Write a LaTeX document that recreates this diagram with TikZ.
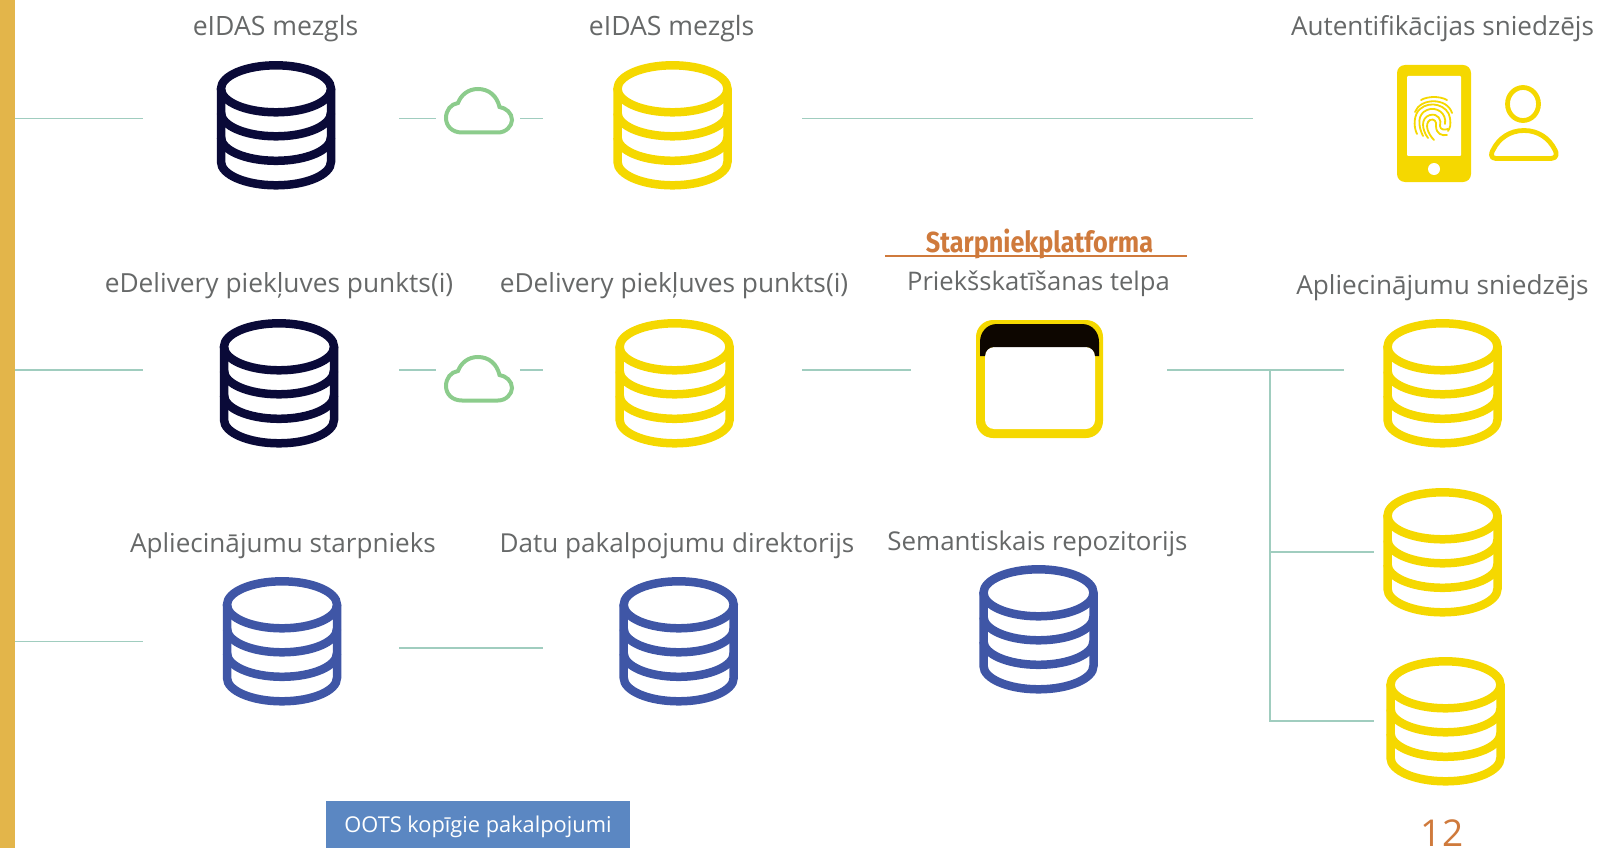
\documentclass[tikz,border=0pt]{standalone}
\usepackage{fontspec}
\newfontfamily\lab{Open Sans}
\newfontfamily\head[FakeStretch=0.87]{Fira Sans}
\definecolor{navy}{HTML}{0A0A38}
\definecolor{gold}{HTML}{F5D800}
\definecolor{royal}{HTML}{3F56A6}
\definecolor{linec}{HTML}{A0CDBF}
\definecolor{cloudc}{HTML}{8CCC8C}
\definecolor{barc}{HTML}{E3B54A}
\definecolor{orangec}{HTML}{CF7A3C}
\definecolor{greyt}{HTML}{666868}
\definecolor{boxc}{HTML}{5B87C2}
\newcommand\dbicon[3]{%
\begin{scope}[shift={(#1,#2)},draw=#3,line width=8.5pt]
\draw (0,27.8) ellipse [x radius=55pt,y radius=23.5pt];
\draw (-55,27.8) -- (-55,100.8) arc [start angle=180,end angle=360,x radius=55pt,y radius=23.5pt] -- (55,27.8);
\draw (-55,51.8) arc [start angle=180,end angle=360,x radius=55pt,y radius=23.5pt];
\draw (-55,76.3) arc [start angle=180,end angle=360,x radius=55pt,y radius=23.5pt];
\end{scope}}
\newcommand\cloudicon[2]{%
\begin{scope}[shift={(#1,#2)}]
\draw[cloudstroke] (462,132.5) -- (498,132.5) .. controls (506,132.5) and (512,126) .. (512,120) .. controls (512,113) and (506,108) .. (499.5,107) .. controls (497,96) and (489,89) .. (478,89) .. controls (468,89) and (461,95) .. (458,103) .. controls (451,104) and (446,110) .. (446,118) .. controls (446,126) and (452,132.5) .. (462,132.5) -- cycle;
\end{scope}}
\tikzset{
  cloudstroke/.style={draw=cloudc,line width=4pt},
  conn/.style={draw=linec,line width=1.1pt},
  lbl/.style={anchor=base,inner sep=0pt,text=greyt,font=\lab\fontsize{#1}{30}\selectfont},
  lbl/.default=26.1,
}
\begin{document}
\begin{tikzpicture}[x=1pt,y=-1pt]
\useasboundingbox (0,0) rectangle (1598,848);
\fill[barc] (0,0) rectangle (15,848);
% databases
\dbicon{276}{61}{navy}
\dbicon{672.5}{61}{gold}
\dbicon{279}{319}{navy}
\dbicon{674.6}{319}{gold}
\dbicon{282}{577}{royal}
\dbicon{678.7}{577}{royal}
\dbicon{1038.5}{565}{royal}
\dbicon{1442.5}{319}{gold}
\dbicon{1442.5}{488}{gold}
\dbicon{1445.5}{657}{gold}
% clouds
\cloudicon{0}{0}
\cloudicon{0}{268}
% connector ends
\coordinate (a1) at (15,118.3); \coordinate (a2) at (143,118.3);
\coordinate (a3) at (399,118.3); \coordinate (a4) at (436,118.3);
\coordinate (a5) at (520,118.3); \coordinate (a6) at (543,118.3);
\coordinate (a7) at (802,118.3); \coordinate (a8) at (1253,118.3);
\coordinate (b1) at (15,370); \coordinate (b2) at (143,370);
\coordinate (b3) at (399,370); \coordinate (b4) at (436,370);
\coordinate (b5) at (520,370); \coordinate (b6) at (543,370);
\coordinate (b7) at (802,370); \coordinate (b8) at (911,370);
\coordinate (b9) at (1167,370); \coordinate (j1) at (1270,370); \coordinate (b10) at (1344,370);
\coordinate (j2) at (1270,552); \coordinate (e2) at (1374,552);
\coordinate (j3) at (1270,721); \coordinate (e3) at (1374,721);
\coordinate (c1) at (15,641.5); \coordinate (c2) at (143,641.5);
\coordinate (c3) at (399,648); \coordinate (c4) at (543,648);
\draw[conn] (a1) -- (a2);
\draw[conn] (a3) -- (a4);
\draw[conn] (a5) -- (a6);
\draw[conn] (a7) -- (a8);
\draw[conn] (b1) -- (b2);
\draw[conn] (b3) -- (b4);
\draw[conn] (b5) -- (b6);
\draw[conn] (b7) -- (b8);
\draw[conn] (b9) -- (j1) -- (b10);
\draw[conn] (j1) -- (j2) -- (e2);
\draw[conn] (j2) -- (j3) -- (e3);
\draw[conn] (c1) -- (c2);
\draw[conn] (c3) -- (c4);
% window
\fill[gold,rounded corners=17pt] (976,320) rectangle (1103,438);
\fill[white,rounded corners=9pt] (985,347) rectangle (1095,429);
\fill[black!95!orange] (980,356) -- (980,342) .. controls (980,332) and (987,324) .. (997,324) -- (1082,324) .. controls (1092,324) and (1099,332) .. (1099,342) -- (1099,356) -- (1095,356) .. controls (1095,351) and (1091,347) .. (1086,347) -- (994,347) .. controls (989,347) and (985,351) .. (985,356) -- cycle;
% phone
\fill[gold,rounded corners=8pt] (1397,65) rectangle (1471,182);
\fill[white,rounded corners=1pt] (1407,76) rectangle (1461,156);
\fill[white] (1434,169) circle [radius=6pt];
\begin{scope}[draw=gold,line width=1.8pt,line cap=round]
\draw (1421,100) .. controls (1428,96) and (1440,96) .. (1447,100);
\draw (1415,112) .. controls (1420,98) and (1447,97) .. (1452,113);
\draw (1417,134) .. controls (1413,126) and (1414,114) .. (1420,109) .. controls (1430,100) and (1448,105) .. (1450,118) .. controls (1451,125) and (1450,128) .. (1448,131);
\draw (1423,136) .. controls (1418,126) and (1417,114) .. (1427,110) .. controls (1436,106) and (1447,113) .. (1445,124);
\draw (1428,138) .. controls (1422,130) and (1420,118) .. (1430,115) .. controls (1438,113) and (1442,120) .. (1440,126) .. controls (1440,130) and (1445,130) .. (1448,129);
\draw (1434,140) .. controls (1428,134) and (1424,124) .. (1430,120) .. controls (1434,118) and (1437,122) .. (1436,126) .. controls (1436,134) and (1442,136) .. (1447,135);
\end{scope}
% person
\begin{scope}[draw=gold,line width=4.8pt,line join=round]
\draw (1523,104) ellipse [x radius=15.5pt,y radius=16.5pt];
\draw (1496,158.5) .. controls (1490,158.5) and (1491,153) .. (1493,150) .. controls (1499,138) and (1510,130.5) .. (1524,130.5) .. controls (1538,130.5) and (1549,138) .. (1555,150) .. controls (1557,153) and (1557,158.5) .. (1551,158.5) -- cycle;
\end{scope}
% labels
\node[lbl=26.6] (t1) at (275.5,36) {eIDAS mezgls};
\node[lbl=26.6] (t2) at (671.6,36) {eIDAS mezgls};
\node[lbl] (t3) at (1442.5,36) {Autentifikācijas sniedzējs};
\node[lbl=26.3] (t4) at (279,292.5) {eDelivery piekļuves punkts(i)};
\node[lbl=26.3] (t5) at (674,292.5) {eDelivery piekļuves punkts(i)};
\node[lbl=25.6] (t6) at (1038.5,290) {Priekšskatīšanas telpa};
\node[lbl=26.2] (t7) at (1442.5,294.5) {Apliecinājumu sniedzējs};
\node[lbl] (t8) at (283,552) {Apliecinājumu starpnieks};
\node[lbl] (t9) at (677,552) {Datu pakalpojumu direktorijs};
\node[lbl=25.9] (t10) at (1037.5,550) {Semantiskais repozitorijs};
\node[anchor=base,inner sep=0pt,text=orangec,font=\head\bfseries\fontsize{29}{33}\selectfont] (hd) at (1039.5,252) {Starpniekplatforma};
\coordinate (hl) at (885,256); \coordinate (hr) at (1187,256);
\draw[draw=orangec,line width=2.5pt] (hl) -- (hr);
\fill[boxc] (326,801) rectangle (630,848);
\node[anchor=base,inner sep=0pt,text=white,font=\lab\fontsize{21.8}{26}\selectfont] (box) at (478,832) {OOTS kopīgie pakalpojumi};
\node[anchor=base,inner sep=0pt,text=orangec,font=\lab\fontsize{37}{40}\selectfont] (pg) at (1442,846) {12};
\end{tikzpicture}
\end{document}
